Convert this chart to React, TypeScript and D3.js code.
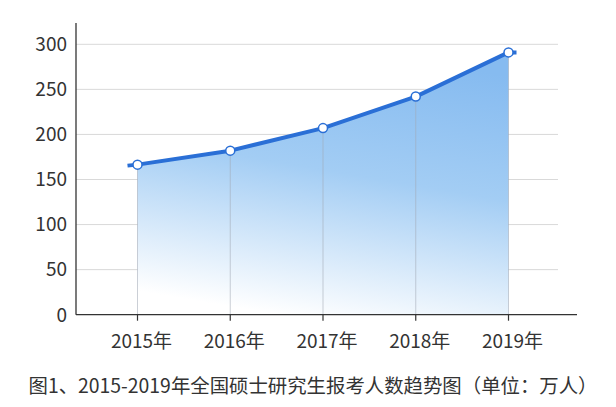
import React from "react";
import * as d3 from "d3";

const years = ["2015年", "2016年", "2017年", "2018年", "2019年"];
const applicants = [166.5, 182, 207, 242, 291];
const yTicks = [0, 50, 100, 150, 200, 250, 300];
const caption = "图1、2015-2019年全国硕士研究生报考人数趋势图（单位：万人）";

const W = 616;
const H = 407;
const FONT = "'Noto Sans CJK SC', 'Noto Sans', sans-serif";

export default function App() {
  const axisLeft = 76;
  const axisRight = 577;
  const gridRight = 558;
  const axisTop = 23;

  const x = d3.scalePoint<string>().domain(years).range([137.5, 508.5]);
  const y = d3.scaleLinear().domain([0, 300]).range([314.7, 44.3]);

  const pts: [number, number][] = years.map((yr, i) => [x(yr) as number, y(applicants[i])]);
  const linePts: [number, number][] = [
    [pts[0][0] - 10, pts[0][1] + 1],
    ...pts,
    [pts[pts.length - 1][0] + 8, pts[pts.length - 1][1]],
  ];
  const line = d3.line<[number, number]>().x((d) => d[0]).y((d) => d[1]);
  const area = d3
    .area<[number, number]>()
    .x((d) => d[0])
    .y0(y(0))
    .y1((d) => d[1]);

  return (
    <svg width={W} height={H} style={{ display: "block", position: "absolute", left: 0, top: 0 }}>
      <defs>
        <linearGradient id="areaGrad" x1="0.62" y1="0" x2="0.38" y2="1">
          <stop offset="0" stopColor="#86bbf0" />
          <stop offset="0.45" stopColor="#a3cdf4" />
          <stop offset="0.8" stopColor="#deedfb" />
          <stop offset="1" stopColor="#ffffff" />
        </linearGradient>
      </defs>
      <rect width={W} height={H} fill="#fff" />
      {yTicks
        .filter((t) => t > 0)
        .map((t) => (
          <line key={t} x1={axisLeft} x2={gridRight} y1={y(t)} y2={y(t)} stroke="#d9d9d9" strokeWidth={1} />
        ))}
      <path d={area(pts) || ""} fill="url(#areaGrad)" />
      {pts.map((p, i) => (
        <line key={i} x1={p[0]} x2={p[0]} y1={p[1]} y2={y(0)} stroke="#a0a8b4" strokeOpacity={0.55} strokeWidth={1} />
      ))}
      <line x1={axisLeft} x2={axisLeft} y1={axisTop} y2={y(0)} stroke="#333" strokeWidth={1.3} />
      <line x1={axisLeft} x2={axisRight} y1={y(0)} y2={y(0)} stroke="#333" strokeWidth={1.3} />
      {years.map((yr) => (
        <line key={yr} x1={x(yr) as number} x2={x(yr) as number} y1={y(0)} y2={y(0) + 6} stroke="#333" strokeWidth={1.2} />
      ))}
      {yTicks.map((t) => (
        <text key={t} x={67} y={y(t)} dy="0.36em" textAnchor="end" fontFamily={FONT} fontSize={19} fill="#333">
          {t}
        </text>
      ))}
      {years.map((yr) => (
        <text key={yr} x={(x(yr) as number) + 4} y={348} textAnchor="middle" fontFamily={FONT} fontSize={19} fill="#333">
          {yr}
        </text>
      ))}
      <path d={line(linePts) || ""} fill="none" stroke="#2a6fd6" strokeWidth={4} strokeLinejoin="round" />
      {pts.map((p, i) => (
        <circle key={i} cx={p[0]} cy={p[1]} r={4.5} fill="#fff" stroke="#2a6fd6" strokeWidth={1.5} />
      ))}
      <text x={313} y={393} textAnchor="middle" fontFamily={FONT} fontSize={19.4} fill="#333">
        {caption}
      </text>
    </svg>
  );
}
